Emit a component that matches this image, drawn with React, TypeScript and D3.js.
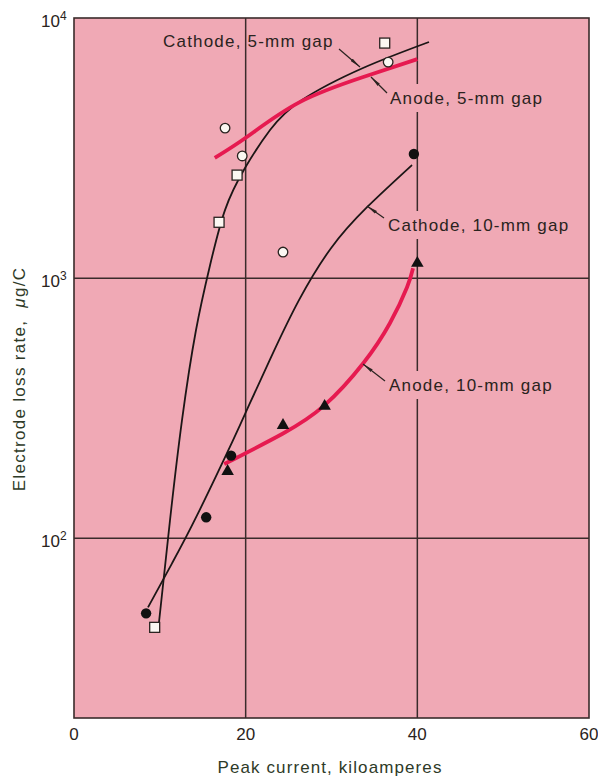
import React from 'react';
import * as d3 from 'd3';

// Axis ticks
const xTicks = [0, 20, 40, 60];
const yTicks = [100, 1000, 10000];
const yTickExponents = ['2', '3', '4'];

// Measured points: [peak current kA, loss rate µg/C]
const cathode5Points: [number, number][] = [[9.4, 45.5], [16.9, 1640], [19.0, 2490], [36.2, 8010]];
const anode5Points: [number, number][] = [[17.6, 3775], [19.6, 2950], [24.35, 1260], [36.6, 6770]];
const cathode10Points: [number, number][] = [[8.4, 51.5], [15.4, 120.5], [18.3, 208], [39.6, 3000]];
const anode10Points: [number, number][] = [[17.9, 181], [24.35, 272], [29.2, 322], [40.0, 1142]];

// Fitted curves through the measurements
const cathode5Curve: [number, number][] = [
  [9.9, 47.5], [11.18, 117], [12.58, 284], [14.21, 631], [15.85, 1122], [17.59, 1827],
  [19.92, 2650], [22.84, 3710], [26.56, 4840], [33.67, 6425], [41.36, 8088],
];
const cathode10Curve: [number, number][] = [
  [8.62, 54.3], [11.42, 80.2], [14.33, 122.5], [18.52, 238], [20.39, 325], [23.07, 506],
  [26.21, 823], [29.94, 1304], [34.14, 1875], [39.38, 2722],
];
const anode5Curve: [number, number][] = [[16.4, 2900], [20.3, 3520], [26.3, 4750], [33.7, 5930], [40.0, 6950]];
const anode10Curve: [number, number][] = [
  [17.5, 193], [24.35, 253], [29.2, 325], [33.7, 471], [36.8, 671], [38.8, 923], [39.5, 1092],
];

const curveLabels = ['Cathode, 5-mm gap', 'Anode, 5-mm gap', 'Cathode, 10-mm gap', 'Anode, 10-mm gap'];

const PINK = '#f0a9b5';
const RED = '#e61a50';
const INK = '#2a2320';
const GRID = '#3a2b2b';
const TITLE = '#2e3a28';
const FONT = '"Liberation Sans", Arial, Helvetica, sans-serif';

export default function App() {
  const W = 598;
  const H = 779;
  const left = 74, right = 589, top = 18, bottom = 718;

  const x = d3.scaleLinear().domain([0, 60]).range([left, right]);
  const y = d3.scaleLog().domain([20.4, 10000]).range([bottom, top]);

  const line = d3
    .line<[number, number]>()
    .x((d) => x(d[0]))
    .y((d) => y(d[1]))
    .curve(d3.curveNatural);

  const tri = d3.symbol(d3.symbolTriangle, 68)();

  // label layout: text origin, background box width, leader line
  const labelLayout = [
    { tx: 163, ty: 47, w: 0, lead: [339, 49, 360, 67] },
    { tx: 390, ty: 104, w: 156, lead: [387, 93, 371, 77] },
    { tx: 388, ty: 231, w: 184, lead: [384, 218, 367, 206] },
    { tx: 389, ty: 391, w: 166, lead: [385, 381, 363, 364] },
  ];

  return (
    <svg
      width={W}
      height={H}
      style={{ position: 'absolute', left: 0, top: 0, background: '#fff' }}
      fontFamily={FONT}
    >
      <defs>
        <marker
          id="lead-arrow"
          viewBox="0 0 11 4"
          refX={11}
          refY={2}
          markerWidth={11}
          markerHeight={4}
          markerUnits="userSpaceOnUse"
          orient="auto"
        >
          <path d="M0,0.4 L11,2 L0,3.6 Z" fill={INK} />
        </marker>
      </defs>

      {/* plot field */}
      <rect x={left} y={top} width={right - left} height={bottom - top} fill={PINK} />

      {/* grid */}
      {xTicks.slice(1, -1).map((t) => (
        <line key={'gx' + t} x1={x(t)} x2={x(t)} y1={top} y2={bottom} stroke={GRID} strokeWidth={1.5} />
      ))}
      {yTicks.slice(0, -1).map((t) => (
        <line key={'gy' + t} x1={left} x2={right} y1={y(t)} y2={y(t)} stroke={GRID} strokeWidth={1.5} />
      ))}
      <rect x={left} y={top} width={right - left} height={bottom - top} fill="none" stroke={GRID} strokeWidth={1.6} />

      {/* label backgrounds */}
      {labelLayout.map((l, i) =>
        l.w > 0 ? <rect key={'bg' + i} x={l.tx + 3} y={l.ty - 20} width={l.w - 3} height={28} fill={PINK} /> : null
      )}

      {/* curves */}
      <path d={line(cathode5Curve) || ''} fill="none" stroke="#1c1616" strokeWidth={1.8} />
      <path d={line(cathode10Curve) || ''} fill="none" stroke="#1c1616" strokeWidth={1.8} />
      <path d={line(anode5Curve) || ''} fill="none" stroke={RED} strokeWidth={3.8} />
      <path d={line(anode10Curve) || ''} fill="none" stroke={RED} strokeWidth={3.8} />

      {/* markers */}
      {cathode5Points.map((d, i) => (
        <rect key={'sq' + i} x={x(d[0]) - 5} y={y(d[1]) - 5} width={10} height={10} fill="#fbf7f2" stroke={INK} strokeWidth={1.3} />
      ))}
      {anode5Points.map((d, i) => (
        <circle key={'oc' + i} cx={x(d[0])} cy={y(d[1])} r={4.8} fill="#fbf7f2" stroke={INK} strokeWidth={1.3} />
      ))}
      {cathode10Points.map((d, i) => (
        <circle key={'fc' + i} cx={x(d[0])} cy={y(d[1])} r={5.2} fill="#111" />
      ))}
      {anode10Points.map((d, i) => (
        <path key={'tr' + i} d={tri || ''} transform={`translate(${x(d[0])},${y(d[1])})`} fill="#111" />
      ))}

      {/* curve labels and leaders */}
      {labelLayout.map((l, i) => (
        <g key={'lab' + i}>
          <line
            x1={l.lead[0]}
            y1={l.lead[1]}
            x2={l.lead[2]}
            y2={l.lead[3]}
            stroke={INK}
            strokeWidth={1.2}
            markerEnd="url(#lead-arrow)"
          />
          <text x={l.tx} y={l.ty} fontSize={17} letterSpacing={1.2} fill={INK}>
            {curveLabels[i]}
          </text>
        </g>
      ))}

      {/* x tick labels */}
      {xTicks.map((t) => (
        <text key={'xt' + t} x={x(t)} y={740} fontSize={17} textAnchor="middle" fill={INK}>
          {t}
        </text>
      ))}

      {/* y tick labels */}
      {yTicks.map((t, i) => (
        <text key={'yt' + t} x={41} y={y(t) + 9} fontSize={17} fill={INK}>
          10
          <tspan dy={-7} fontSize={12}>
            {yTickExponents[i]}
          </tspan>
        </text>
      ))}

      {/* axis titles */}
      <text x={330} y={773} fontSize={17} letterSpacing={1.1} textAnchor="middle" fill={TITLE}>
        Peak current, kiloamperes
      </text>
      <text
        transform="translate(25,379) rotate(-90)"
        fontSize={17}
        letterSpacing={1.3}
        textAnchor="middle"
        fill={TITLE}
      >
        Electrode loss rate,{'\u00a0\u00a0'}
        <tspan fontStyle="italic">μ</tspan>g/C
      </text>
    </svg>
  );
}
